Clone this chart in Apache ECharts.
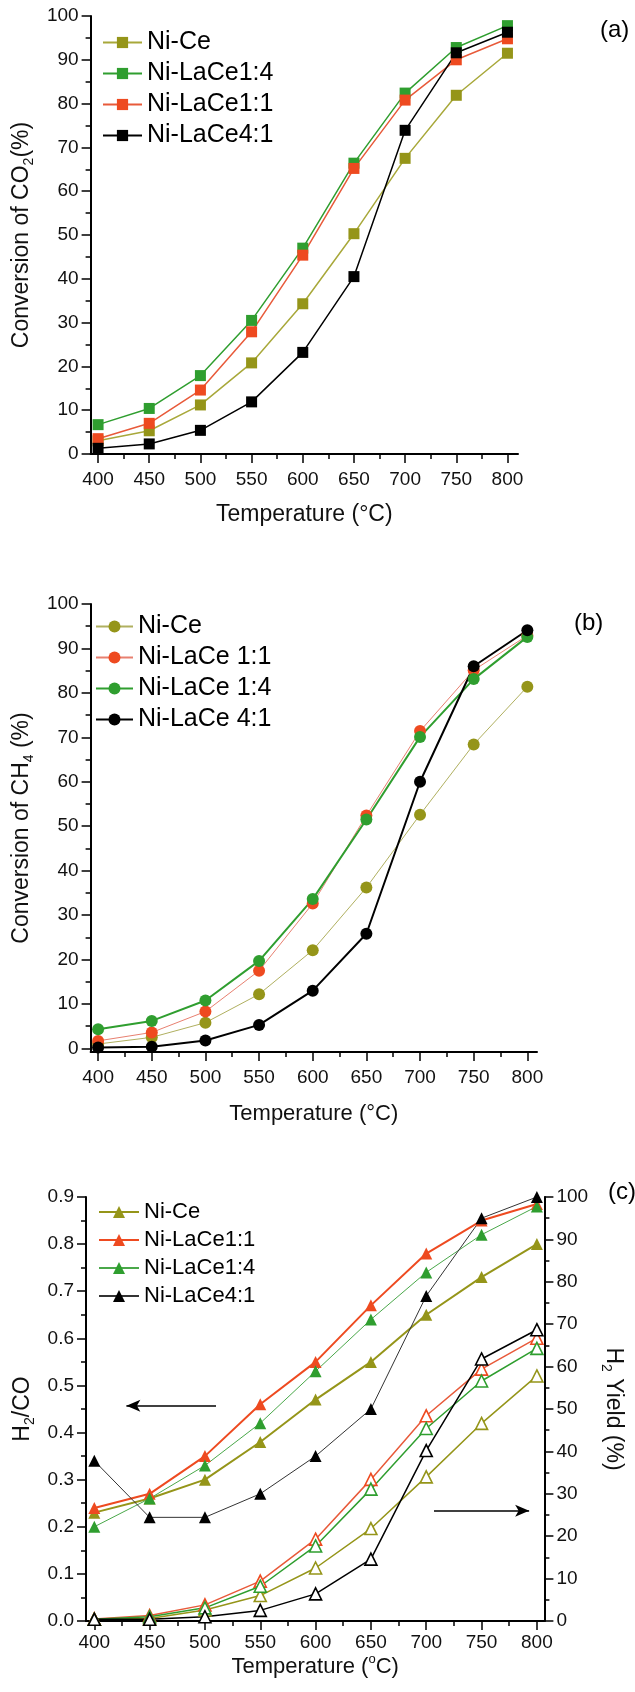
<!DOCTYPE html>
<html>
<head>
<meta charset="utf-8">
<script src="https://cdn.jsdelivr.net/npm/echarts@6/dist/echarts.min.js"></script>
<style>
  html, body { margin: 0; padding: 0; background: #fff; }
  #chart { width: 635px; height: 1692px; }
</style>
</head>
<body>
<div id="chart"></div>
<script>
// temperatures (x) and tick positions
const temps = [400, 450, 500, 550, 600, 650, 700, 750, 800];
const tempMajor = [400, 450, 500, 550, 600, 650, 700, 750, 800];
const tempMinor = [425, 475, 525, 575, 625, 675, 725, 775];
const pctMajor = [0, 10, 20, 30, 40, 50, 60, 70, 80, 90, 100];
const pctMinor = [5, 15, 25, 35, 45, 55, 65, 75, 85, 95];
const ratioMajor = [0, 0.1, 0.2, 0.3, 0.4, 0.5, 0.6, 0.7, 0.8, 0.9];
const ratioMinor = [0.05, 0.15, 0.25, 0.35, 0.45, 0.55, 0.65, 0.75, 0.85];

// (a) CO2 conversion (%)
const co2NiCe = [3.0, 5.3, 11.2, 20.8, 34.3, 50.3, 67.5, 81.9, 91.5];
const co2LaCe14 = [6.7, 10.4, 17.9, 30.5, 47.0, 66.4, 82.4, 92.8, 97.8];
const co2LaCe11 = [3.5, 7.0, 14.6, 27.9, 45.4, 65.2, 80.8, 90.0, 94.8];
const co2LaCe41 = [1.3, 2.3, 5.4, 11.9, 23.2, 40.5, 73.9, 91.6, 96.3];

// (b) CH4 conversion (%)
const ch4NiCe = [1.0, 2.5, 5.8, 12.2, 22.1, 36.2, 52.6, 68.4, 81.4];
const ch4LaCe11 = [1.7, 3.6, 8.3, 17.5, 32.6, 52.4, 71.4, 85.1, 92.9];
const ch4LaCe14 = [4.3, 6.2, 10.8, 19.7, 33.6, 51.5, 70.1, 83.1, 92.6];
const ch4LaCe41 = [0.2, 0.4, 1.8, 5.3, 13.0, 25.8, 60.0, 86.0, 94.1];

// (c) H2/CO ratio (left axis, filled)
const ratioNiCe = [0.23, 0.26, 0.30, 0.38, 0.47, 0.55, 0.65, 0.73, 0.80];
const ratioLaCe11 = [0.24, 0.27, 0.35, 0.46, 0.55, 0.67, 0.78, 0.85, 0.885];
const ratioLaCe14 = [0.20, 0.26, 0.33, 0.42, 0.53, 0.64, 0.74, 0.82, 0.88];
const ratioLaCe41 = [0.34, 0.22, 0.22, 0.27, 0.35, 0.45, 0.69, 0.855, 0.90];

// (c) H2 yield (%) (right axis, open)
const yieldNiCe = [0.4, 0.6, 2.6, 6.0, 12.5, 21.8, 34.0, 46.6, 57.8];
const yieldLaCe11 = [0.5, 1.3, 3.8, 9.4, 19.3, 33.4, 48.4, 59.4, 66.7];
const yieldLaCe14 = [0.4, 1.0, 3.1, 8.2, 17.7, 31.1, 45.4, 56.6, 64.3];
const yieldLaCe41 = [0.4, 0.4, 1.0, 2.5, 6.4, 14.6, 40.2, 61.8, 68.7];

// arrows in (c): [from, to] in data units
const arrowLeft = [[510, 0.457], [429, 0.457]];
const arrowRight = [[707, 26], [793, 26]];

const FONT = '"Liberation Sans", Arial, sans-serif';
const OLIVE = '#959519';
const GREEN = '#2f9e2f';
const RED = '#ee4a20';
const BLACK = '#000';

const pairs = vals => temps.map((t, i) => [t, vals[i]]);

function majorAxis(gridIndex, min, max, ticks, o) {
  return {
    type: 'value', gridIndex, min, max, position: o.position,
    axisLine: { onZero: false, lineStyle: { color: '#000', width: 2 } },
    axisTick: { customValues: ticks, length: 9, lineStyle: { color: '#000', width: 1.5 } },
    axisLabel: {
      customValues: ticks, margin: o.margin, fontSize: 19, color: '#111', fontFamily: FONT,
      formatter: o.fmt || (v => String(v))
    },
    splitLine: { show: false },
    name: o.name, nameLocation: 'middle', nameGap: o.nameGap, nameRotate: o.nameRotate || 0,
    nameTextStyle: {
      fontSize: o.nameSize || 23, color: '#111', fontFamily: FONT, lineHeight: 28,
      rich: {
        s: { fontSize: 14, fontFamily: FONT, color: '#111', verticalAlign: 'bottom', lineHeight: 14 },
        u: { fontSize: 13, fontFamily: FONT, color: '#111', verticalAlign: 'top', lineHeight: 13 }
      }
    }
  };
}

function minorAxis(gridIndex, min, max, ticks, position) {
  return {
    type: 'value', gridIndex, min, max, position,
    axisLine: { show: false, onZero: false },
    axisTick: { customValues: ticks, length: 5, lineStyle: { color: '#000', width: 1.5 } },
    axisLabel: { show: false },
    splitLine: { show: false }
  };
}

function line(name, xi, yi, vals, symbol, color, lineColor, width, open) {
  return {
    type: 'line', name, xAxisIndex: xi, yAxisIndex: yi, data: pairs(vals),
    symbol, symbolSize: symbol === 'rect' ? 11 : 12,
    lineStyle: { color: lineColor, width },
    itemStyle: open ? { color: '#fff', borderColor: color, borderWidth: 1.6 } : { color },
    animation: false
  };
}

function legend(prefix, names, left, top, itemWidth, itemHeight, fontSize, lineHeight) {
  return {
    data: names.map(n => prefix + '#' + n), orient: 'vertical', left, top,
    itemWidth, itemHeight, itemGap: 0, padding: 0,
    formatter: n => n.split('#')[1],
    textStyle: { fontSize, lineHeight, fontFamily: FONT, color: '#000' }
  };
}

const xAxis = [
  majorAxis(0, 392.7, 810.3, tempMajor, { position: 'bottom', margin: 16, nameGap: 47, name: 'Temperature (°C)' }),
  minorAxis(0, 392.7, 810.3, tempMinor, 'bottom'),
  majorAxis(1, 393, 809, tempMajor, { position: 'bottom', margin: 16, nameGap: 48, name: 'Temperature (°C)', nameSize: 22 }),
  minorAxis(1, 393, 809, tempMinor, 'bottom'),
  majorAxis(2, 392.5, 806.8, tempMajor, { position: 'bottom', margin: 12, nameGap: 31, name: 'Temperature ({u|o}C)', nameSize: 22 }),
  minorAxis(2, 392.5, 806.8, tempMinor, 'bottom')
];

const yAxis = [
  majorAxis(0, 0, 100, pctMajor, { position: 'left', margin: 12, nameGap: 35, nameRotate: 90, name: 'Conversion of CO{s|2}(%)' }),
  minorAxis(0, 0, 100, pctMinor, 'left'),
  majorAxis(1, -0.8, 100, pctMajor, { position: 'left', margin: 12, nameGap: 43, nameRotate: 90, name: 'Conversion of CH{s|4} (%)' }),
  minorAxis(1, -0.8, 100, pctMinor, 'left'),
  majorAxis(2, 0, 0.9, ratioMajor, { position: 'left', margin: 12, nameGap: 38, nameRotate: 90, name: 'H{s|2}/CO', fmt: v => v.toFixed(1) }),
  minorAxis(2, 0, 0.9, ratioMinor, 'left'),
  majorAxis(2, 0, 100, pctMajor, { position: 'right', margin: 12, nameGap: 50, nameRotate: -90, name: 'H{s|2} Yield (%)' }),
  minorAxis(2, 0, 100, pctMinor, 'right')
];

const series = [
  // (a)
  line('a#Ni-Ce', 0, 0, co2NiCe, 'rect', OLIVE, '#a8a83a', 1.5),
  line('a#Ni-LaCe1:4', 0, 0, co2LaCe14, 'rect', GREEN, GREEN, 1.5),
  line('a#Ni-LaCe1:1', 0, 0, co2LaCe11, 'rect', RED, '#e85a3a', 1.5),
  line('a#Ni-LaCe4:1', 0, 0, co2LaCe41, 'rect', BLACK, BLACK, 1.5),
  // (b)
  line('b#Ni-Ce', 2, 2, ch4NiCe, 'circle', OLIVE, '#b0b060', 1),
  line('b#Ni-LaCe 1:1', 2, 2, ch4LaCe11, 'circle', RED, '#e88070', 1),
  line('b#Ni-LaCe 1:4', 2, 2, ch4LaCe14, 'circle', GREEN, GREEN, 2),
  line('b#Ni-LaCe 4:1', 2, 2, ch4LaCe41, 'circle', BLACK, BLACK, 2),
  // (c) H2 yield, open triangles
  line('y#Ni-Ce', 4, 6, yieldNiCe, 'triangle', OLIVE, OLIVE, 1.5, true),
  line('y#Ni-LaCe1:1', 4, 6, yieldLaCe11, 'triangle', RED, '#e85a3a', 1.5, true),
  line('y#Ni-LaCe1:4', 4, 6, yieldLaCe14, 'triangle', GREEN, GREEN, 1.5, true),
  line('y#Ni-LaCe4:1', 4, 6, yieldLaCe41, 'triangle', BLACK, BLACK, 1.5, true),
  // (c) H2/CO, filled triangles
  line('c#Ni-Ce', 4, 4, ratioNiCe, 'triangle', OLIVE, OLIVE, 2),
  line('c#Ni-LaCe1:1', 4, 4, ratioLaCe11, 'triangle', RED, RED, 2),
  line('c#Ni-LaCe1:4', 4, 4, ratioLaCe14, 'triangle', GREEN, '#4aa84a', 1),
  line('c#Ni-LaCe4:1', 4, 4, ratioLaCe41, 'triangle', BLACK, '#333', 1)
];

// annotation arrows in (c)
const arrowStyle = { symbol: ['none', 'arrow'], symbolSize: [9, 14], silent: true, label: { show: false }, lineStyle: { color: '#000', width: 1.5, type: 'solid' } };
series.push({
  type: 'line', name: 'arrowL', xAxisIndex: 4, yAxisIndex: 4, data: [], animation: false,
  markLine: Object.assign({ data: [[{ coord: arrowLeft[0] }, { coord: arrowLeft[1] }]] }, arrowStyle)
});
series.push({
  type: 'line', name: 'arrowR', xAxisIndex: 4, yAxisIndex: 6, data: [], animation: false,
  markLine: Object.assign({ data: [[{ coord: arrowRight[0] }, { coord: arrowRight[1] }]] }, arrowStyle)
});

const option = {
  backgroundColor: '#fff',
  animation: false,
  grid: [
    { left: 81, top: 16, width: 437, height: 438 },
    { left: 81, top: 604, width: 456, height: 448 },
    { left: 86, top: 1197, width: 459, height: 424 }
  ],
  xAxis,
  yAxis,
  legend: [
    legend('a', ['Ni-Ce', 'Ni-LaCe1:4', 'Ni-LaCe1:1', 'Ni-LaCe4:1'], 102, 27, 39, 14, 25, 31),
    legend('b', ['Ni-Ce', 'Ni-LaCe 1:1', 'Ni-LaCe 1:4', 'Ni-LaCe 4:1'], 95, 611, 37, 15, 25, 31),
    legend('c', ['Ni-Ce', 'Ni-LaCe1:1', 'Ni-LaCe1:4', 'Ni-LaCe4:1'], 98, 1198, 40, 15, 22, 28)
  ],
  graphic: [
    { type: 'text', left: 600, top: 18, style: { text: '(a)', fontSize: 24, fontFamily: FONT, fill: '#000' } },
    { type: 'text', left: 574, top: 611, style: { text: '(b)', fontSize: 24, fontFamily: FONT, fill: '#000' } },
    { type: 'text', left: 608, top: 1180, style: { text: '(c)', fontSize: 24, fontFamily: FONT, fill: '#000' } }
  ],
  series
};

const chart = echarts.init(document.getElementById('chart'), null, { renderer: 'canvas' });
chart.setOption(option);
</script>
</body>
</html>
